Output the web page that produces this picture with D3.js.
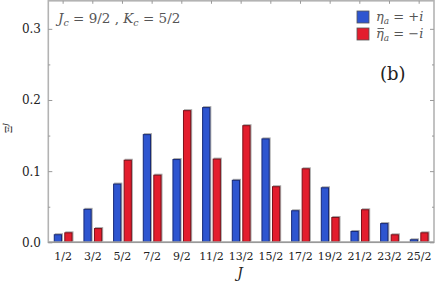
<!DOCTYPE html>
<html><head><meta charset="utf-8">
<script src="https://cdn.jsdelivr.net/npm/d3@7"></script>
<style>
html,body{margin:0;padding:0;background:#fff;}
</style></head>
<body><svg id="c" width="436" height="283"></svg>
<script>
const categories = ["1/2","3/2","5/2","7/2","9/2","11/2","13/2","15/2","17/2","19/2","21/2","23/2","25/2"];
const seriesPlus  = [0.0113,0.047,0.0825,0.152,0.117,0.190,0.0878,0.146,0.045,0.0773,0.0159,0.027,0.0042];
const seriesMinus = [0.014,0.020,0.116,0.095,0.1857,0.1176,0.1646,0.0788,0.104,0.0356,0.0464,0.0112,0.014];
const yTicks = [0, 0.1, 0.2, 0.3];
const yMinor = [0.05, 0.15, 0.25];
const seriesNames = ["plus","minus"];

const FONT = "DejaVu Serif";
const svg = d3.select("#c");
const L = 48.3, R = 434, T = 0.8, B = 242.3;
const x = d3.scaleBand().domain(categories).range([L, R]).padding(0);
const xs = d3.scaleBand().domain(seriesNames).range([-10, 10]).paddingInner(0.22).paddingOuter(0.06);
const y = d3.scaleLinear().domain([0, 0.3394]).range([B, T]);

const fills = {plus:"#2e55d0", minus:"#e31d2d"};
const strokes = {plus:"#172a78", minus:"#7d1019"};

const data = [];
categories.forEach((c,i)=>{
  data.push({c, s:"plus", v:seriesPlus[i]});
  data.push({c, s:"minus", v:seriesMinus[i]});
});

const g = svg.append("g");
g.selectAll("rect.sh").data(data).enter().append("rect")
  .attr("x", d=>x(d.c)+x.bandwidth()/2+xs(d.s)+1)
  .attr("y", d=>y(d.v)-1)
  .attr("width", xs.bandwidth())
  .attr("height", d=>B-y(d.v))
  .attr("fill","#a8a8a8");
g.selectAll("rect.bar").data(data).enter().append("rect")
  .attr("x", d=>x(d.c)+x.bandwidth()/2+xs(d.s)+0.5)
  .attr("y", d=>y(d.v)+0.5)
  .attr("width", xs.bandwidth()-1)
  .attr("height", d=>Math.max(0,B-y(d.v)-0.5))
  .attr("fill", d=>fills[d.s])
  .attr("stroke", d=>strokes[d.s])
  .attr("stroke-width",1);

const frameCol = "#b3b3b3";
svg.append("rect").attr("x",L).attr("y",T).attr("width",R-L).attr("height",B-T)
  .attr("fill","none").attr("stroke",frameCol).attr("stroke-width",1.6);
svg.append("line").attr("x1",L).attr("x2",R).attr("y1",B).attr("y2",B).attr("stroke","#999").attr("stroke-width",1.4);

const axL = d3.axisRight(y).tickValues(yTicks).tickSize(4).tickFormat("");
const axLm = d3.axisRight(y).tickValues(yMinor).tickSize(2).tickFormat("");
const axR = d3.axisLeft(y).tickValues(yTicks).tickSize(4).tickFormat("");
const axRm = d3.axisLeft(y).tickValues(yMinor).tickSize(2).tickFormat("");
[[axL,L],[axLm,L],[axR,R],[axRm,R]].forEach(([a,px])=>{
  const gg = svg.append("g").attr("transform",`translate(${px},0)`).call(a);
  gg.select(".domain").remove();
  gg.selectAll("line").attr("stroke","#999").attr("stroke-width",1);
});
const axT = d3.axisBottom(x).tickSize(3).tickFormat("");
const gt = svg.append("g").attr("transform",`translate(0,${T})`).call(axT);
gt.select(".domain").remove();
gt.selectAll("line").attr("stroke","#999");

svg.append("g").selectAll("text").data(yTicks).enter().append("text")
  .attr("x", 41).attr("y", d=>y(d)+4.5).attr("text-anchor","end")
  .style("font-family",FONT).attr("font-size",12).attr("fill","#222").text(d=>d.toFixed(1));
svg.append("g").selectAll("text").data(categories).enter().append("text")
  .attr("x", d=>x(d)+x.bandwidth()/2).attr("y", 260).attr("text-anchor","middle")
  .style("font-family",FONT).attr("font-size",11).attr("fill","#222").text(d=>d);
svg.append("text").attr("x",240).attr("y",278).attr("text-anchor","middle")
  .style("font-family",FONT).attr("font-size",14).attr("font-style","italic").attr("fill","#222").text("J");
svg.append("text").attr("transform","translate(12,128) rotate(-90)").attr("text-anchor","middle")
  .style("font-family",FONT).attr("font-size",10).attr("fill","#222")
  .html('Ξ<tspan font-style="italic" font-size="7" dy="-4">J</tspan>');

const ann = svg.append("text").attr("x",58).attr("y",23).style("font-family",FONT).attr("font-size",13.5).attr("fill","#555");
ann.append("tspan").attr("font-style","italic").text("J");
ann.append("tspan").attr("font-style","italic").attr("font-size",9.5).attr("dy",3).text("c");
ann.append("tspan").attr("dy",-3).text(" = 9/2 , ");
ann.append("tspan").attr("font-style","italic").text("K");
ann.append("tspan").attr("font-style","italic").attr("font-size",9.5).attr("dy",3).text("c");
ann.append("tspan").attr("dy",-3).text(" = 5/2");

const legend = [{s:"plus", rhs:" = +", bar:false, y:17},{s:"minus", rhs:" = −", bar:true, y:34}];
legend.forEach(l=>{
  svg.append("rect").attr("x",357).attr("y",l.y-6).attr("width",12).attr("height",12)
    .attr("fill",fills[l.s]).attr("stroke","#555").attr("stroke-width",0.8);
  const t = svg.append("text").attr("x",376).attr("y",l.y+4).style("font-family",FONT).attr("font-size",13).attr("fill","#555");
  t.append("tspan").attr("font-style","italic").text("η");
  t.append("tspan").attr("font-style","italic").attr("font-size",9).attr("dy",3).text("a");
  t.append("tspan").attr("dy",-3).text(l.rhs);
  t.append("tspan").attr("font-style","italic").text("i");
  if (l.bar) {
    svg.append("line").attr("x1",377.5).attr("x2",384).attr("y1",l.y-5.5).attr("y2",l.y-5.5)
      .attr("stroke","#555").attr("stroke-width",0.9);
  }
});
svg.append("text").attr("x",380).attr("y",80).style("font-family",FONT).attr("font-size",18).attr("fill","#222").text("(b)");
</script></body></html>
